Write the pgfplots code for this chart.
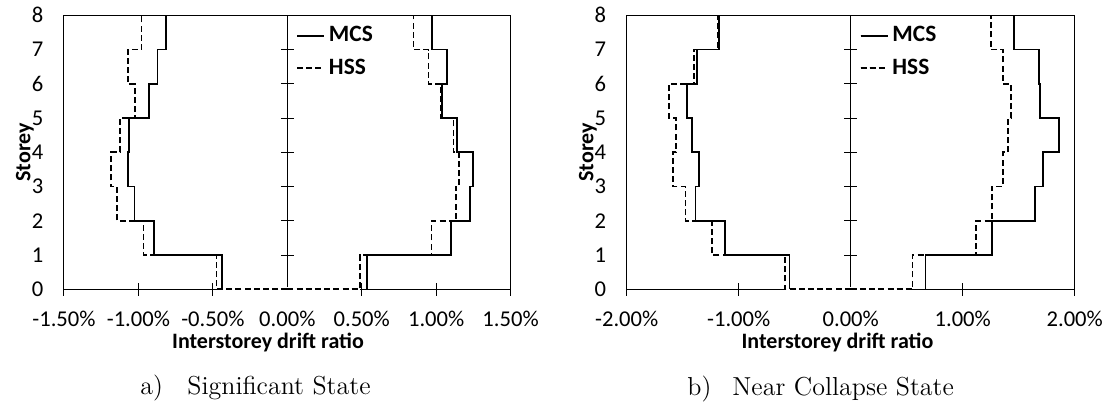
\documentclass[border=0pt]{standalone}
\usepackage{fontspec}
\setmainfont{Carlito}
\newfontfamily\lmfont{Latin Modern Roman}
\usepackage{pgfplots}
\pgfplotsset{compat=1.18}
\pgfplotsset{
  base/.style={scale only axis, height=137pt, ymin=0, ymax=8, anchor=south west,
    tick label style={font=\fontsize{11.3}{13}\selectfont},
    /pgf/number format/assume math mode=true},
  frameaxis/.style={base, clip=false, tick style={draw=none}, ytick={0,...,8},
    yticklabel style={xshift=-6.8pt}, xticklabel style={yshift=-7.5pt},
    axis line style={line width=0.5pt, black}},
  centeraxis/.style={base, axis lines=center, axis line style={-, line width=0.5pt, black},
    x axis line style={draw=none}, ytick={0,...,8}, xticklabels={}, yticklabels={},
    tick align=center, major tick length=6.5pt, tick style={line width=0.5pt, black},
    legend cell align=left,
    legend style={draw=none, fill=none, at={(rel axis cs:0.519,0.975)}, anchor=north west,
      font=\bfseries\fontsize{11.7}{13}\selectfont, row sep=3pt, inner sep=0pt},
    legend image code/.code={\path (0pt,0pt) -- (13.5pt,0pt);\draw[##1, line width=0.65pt] (0pt,0pt) -- (10pt,0pt);}},
  mcs/.style={black, line width=0.9pt, mark=none},
  hss/.style={black, line width=0.9pt, dash pattern=on 3pt off 1.6pt, mark=none},
  ko/.style={white, line width=1.8pt, mark=none, forget plot},
}
\begin{document}
\begin{tikzpicture}
\useasboundingbox (-32pt,-62.85pt) rectangle (521pt,144.65pt);
% ---------------- chart a ----------------
\begin{axis}[frameaxis, at={(0,0)}, width=223.3pt, xmin=-1.5, xmax=1.5,
  xtick={-1.5,-1,-0.5,0,0.5,1,1.5},
  xticklabels={-1.50\%,-1.00\%,-0.50\%,0.00\%,0.50\%,1.00\%,1.50\%}]
\node[rotate=90, font=\bfseries\fontsize{11}{13}\selectfont] at ([xshift=-19.5pt]rel axis cs:0,0.5) {Storey};
\node[font=\bfseries\fontsize{11}{13}\selectfont] at ([yshift=-26.85pt]rel axis cs:0.4568,0) {Interstorey drift ratio};
\end{axis}
\begin{axis}[centeraxis, at={(0,0)}, width=223.3pt, xmin=-1.5, xmax=1.5,
  xtick={-1.5,-1,-0.5,0,0.5,1,1.5}]
\addplot[ko] coordinates {(0,0) (-0.475,0)};
\addplot[ko] coordinates {(0,0) (0.489,0)};
\addplot[mcs] coordinates {(-0.441,0) (-0.441,1) (-0.895,1) (-0.895,2) (-1.027,2) (-1.027,3) (-1.072,3) (-1.072,4) (-1.063,4) (-1.063,5) (-0.931,5) (-0.931,6) (-0.872,6) (-0.872,7) (-0.816,7) (-0.816,8)};
\addlegendentry{MCS}
\addplot[hss] coordinates {(0,0) (-0.475,0) (-0.475,1) (-0.966,1) (-0.966,2) (-1.144,2) (-1.144,3) (-1.184,3) (-1.184,4) (-1.124,4) (-1.124,5) (-1.025,5) (-1.025,6) (-1.072,6) (-1.072,7) (-0.980,7) (-0.980,8)};
\addlegendentry{HSS}
\addplot[mcs, forget plot] coordinates {(0.538,0) (0.538,1) (1.097,1) (1.097,2) (1.229,2) (1.229,3) (1.245,3) (1.245,4) (1.140,4) (1.140,5) (1.039,5) (1.039,6) (1.073,6) (1.073,7) (0.972,7) (0.972,8)};
\addplot[hss, forget plot] coordinates {(0,0) (0.489,0) (0.489,1) (0.969,1) (0.969,2) (1.133,2) (1.133,3) (1.155,3) (1.155,4) (1.117,4) (1.117,5) (1.034,5) (1.034,6) (0.949,6) (0.949,7) (0.848,7) (0.848,8)};
\end{axis}
% ---------------- chart b ----------------
\begin{axis}[frameaxis, at={(281.35pt,0)}, width=224pt, xmin=-2, xmax=2,
  xtick={-2,-1,0,1,2},
  xticklabels={-2.00\%,-1.00\%,0.00\%,1.00\%,2.00\%}]
\node[rotate=90, font=\bfseries\fontsize{11}{13}\selectfont] at ([xshift=-19.35pt]rel axis cs:0,0.5) {Storey};
\node[font=\bfseries\fontsize{11}{13}\selectfont] at ([yshift=-26.85pt]rel axis cs:0.4705,0) {Interstorey drift ratio};
\end{axis}
\begin{axis}[centeraxis, at={(281.35pt,0)}, width=224pt, xmin=-2, xmax=2,
  xtick={-2,-1,0,1,2}]
\addplot[ko] coordinates {(0,0) (-0.587,0)};
\addplot[ko] coordinates {(0,0) (0.551,0)};
\addplot[mcs] coordinates {(-0.546,0) (-0.546,1) (-1.123,1) (-1.123,2) (-1.386,2) (-1.386,3) (-1.353,3) (-1.353,4) (-1.415,4) (-1.415,5) (-1.460,5) (-1.460,6) (-1.373,6) (-1.373,7) (-1.174,7) (-1.174,8)};
\addlegendentry{MCS}
\addplot[hss] coordinates {(0,0) (-0.587,0) (-0.587,1) (-1.239,1) (-1.239,2) (-1.475,2) (-1.475,3) (-1.590,3) (-1.590,4) (-1.560,4) (-1.560,5) (-1.620,5) (-1.620,6) (-1.397,6) (-1.397,7) (-1.186,7) (-1.186,8)};
\addlegendentry{HSS}
\addplot[mcs, forget plot] coordinates {(0.667,0) (0.667,1) (1.265,1) (1.265,2) (1.646,2) (1.646,3) (1.717,3) (1.717,4) (1.857,4) (1.857,5) (1.690,5) (1.690,6) (1.680,6) (1.680,7) (1.455,7) (1.455,8)};
\addplot[hss, forget plot] coordinates {(0,0) (0.551,0) (0.551,1) (1.119,1) (1.119,2) (1.259,2) (1.259,3) (1.360,3) (1.360,4) (1.405,4) (1.405,5) (1.432,5) (1.432,6) (1.357,6) (1.357,7) (1.253,7) (1.253,8)};
\end{axis}
% ---------------- captions ----------------
\node[anchor=base west, inner sep=0pt, font=\lmfont\fontsize{13}{15}\selectfont] at (38pt,-52.85pt) {a)};
\node[anchor=base west, inner sep=0pt, font=\lmfont\fontsize{13}{15}\selectfont] at (61.5pt,-52.85pt) {Significant State};
\node[anchor=base west, inner sep=0pt, font=\lmfont\fontsize{13}{15}\selectfont] at (311.5pt,-53.35pt) {b)};
\node[anchor=base west, inner sep=0pt, font=\lmfont\fontsize{13}{15}\selectfont] at (334pt,-53.35pt) {Near Collapse State};
\end{tikzpicture}
\end{document}
